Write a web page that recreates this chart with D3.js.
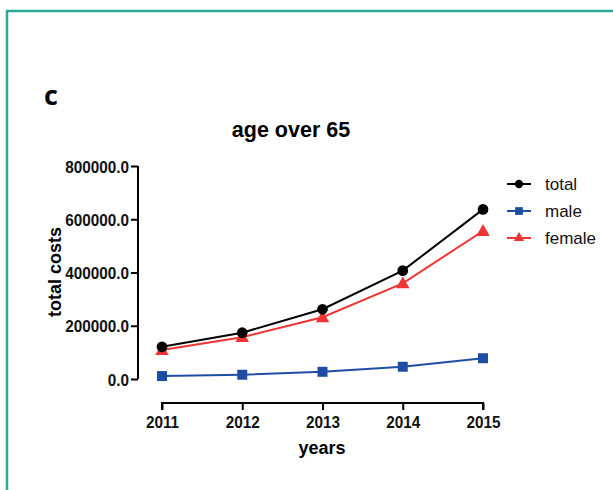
<!DOCTYPE html>
<html><head><meta charset="utf-8">
<script src="https://cdn.jsdelivr.net/npm/d3@7"></script>
<style>body{margin:0;background:#fff}svg{display:block}</style>
</head><body>
<svg id="c" width="613" height="490"></svg>
<script>
const years = [2011, 2012, 2013, 2014, 2015];
const total = [121000, 174000, 262000, 407000, 637000];
const male = [11000, 16000, 27000, 46000, 78000];
const female = [109000, 157000, 232000, 359000, 556000];
const yTicks = [0, 200000, 400000, 600000, 800000];
const seriesNames = ["total", "male", "female"];

const svg = d3.select("#c");
const font = "Liberation Sans, Arial, sans-serif";

// teal frame
svg.append("path").attr("d", "M7,490 V11 H613").attr("fill", "none")
  .attr("stroke", "#2aa89a").attr("stroke-width", 2.5);

svg.append("text").attr("x", 44).attr("y", 105).attr("font-family", "Open Sans, sans-serif")
  .attr("font-weight", "bold").attr("font-size", 27).text("c");

const x = d3.scalePoint().domain(years).range([162, 483]);
const y = d3.scaleLinear().domain([0, 800000]).range([379, 166]);

function condense(sel, f) {
  sel.each(function () {
    const w = this.getComputedTextLength();
    d3.select(this).attr("textLength", w * f).attr("lengthAdjust", "spacingAndGlyphs");
  });
}

// y axis
const ya = svg.append("g").attr("transform", "translate(138,0)")
  .call(d3.axisLeft(y).tickValues(yTicks).tickSize(7).tickPadding(2).tickFormat(d3.format(".1f")));
ya.select(".domain").attr("stroke-width", 2).attr("d", "M0," + y(800000) + "V" + y(0));
ya.selectAll(".tick line").attr("stroke-width", 2);
ya.selectAll("text").attr("font-family", font).attr("font-weight", "bold").attr("font-size", 17).attr("fill", "#111")
  .attr("dy", "0.36em");
condense(ya.selectAll("text"), 0.9);

// x axis
const xa = svg.append("g").attr("transform", "translate(0,403)")
  .call(d3.axisBottom(x).tickSize(7).tickPadding(6).tickSizeOuter(0));
xa.select(".domain").attr("stroke-width", 2).attr("d", "M162,7V0H483V7");
xa.selectAll(".tick line").attr("stroke-width", 2);
xa.selectAll("text").attr("font-family", font).attr("font-weight", "bold").attr("font-size", 17).attr("fill", "#111");
condense(xa.selectAll("text"), 0.9);

svg.append("text").attr("x", 322).attr("y", 454).attr("text-anchor", "middle")
  .attr("font-family", font).attr("font-weight", "bold").attr("font-size", 18).text("years");
svg.append("text").attr("transform", "translate(61,272) rotate(-90)").attr("text-anchor", "middle")
  .attr("font-family", font).attr("font-weight", "bold").attr("font-size", 18).text("total costs");
svg.append("text").attr("x", 291).attr("y", 137).attr("text-anchor", "middle")
  .attr("font-family", font).attr("font-weight", "bold").attr("font-size", 21.5).text("age over 65");

const series = [
  {name: seriesNames[0], values: total, color: "#000000", shape: d3.symbolCircle, size: 90},
  {name: seriesNames[1], values: male, color: "#1f4da6", shape: d3.symbolSquare, size: 100},
  {name: seriesNames[2], values: female, color: "#ee3434", shape: d3.symbolTriangle, size: 80}
];
const line = d3.line().x((d, i) => x(years[i])).y(d => y(d));
// draw order: male, female, total on top
[series[1], series[2], series[0]].forEach(s => {
  svg.append("path").attr("d", line(s.values)).attr("fill", "none")
    .attr("stroke", s.color).attr("stroke-width", 2);
  svg.selectAll(null).data(s.values).enter().append("path")
    .attr("transform", (d, i) => `translate(${x(years[i])},${y(d) + (s.shape === d3.symbolTriangle ? 1 : 0)})`)
    .attr("d", d3.symbol().type(s.shape).size(s.size)).attr("fill", s.color);
});

// legend
series.forEach((s, i) => {
  const ly = 184 + i * 27;
  svg.append("line").attr("x1", 507).attr("x2", 531).attr("y1", ly).attr("y2", ly)
    .attr("stroke", s.color).attr("stroke-width", 2);
  svg.append("path").attr("transform", `translate(519,${ly})`)
    .attr("d", d3.symbol().type(s.shape).size(s.size * 0.6)).attr("fill", s.color);
  svg.append("text").attr("x", 545).attr("y", ly + 6).attr("font-family", font)
    .attr("font-size", 17).attr("fill", "#111").text(s.name);
});
</script>
</body></html>
